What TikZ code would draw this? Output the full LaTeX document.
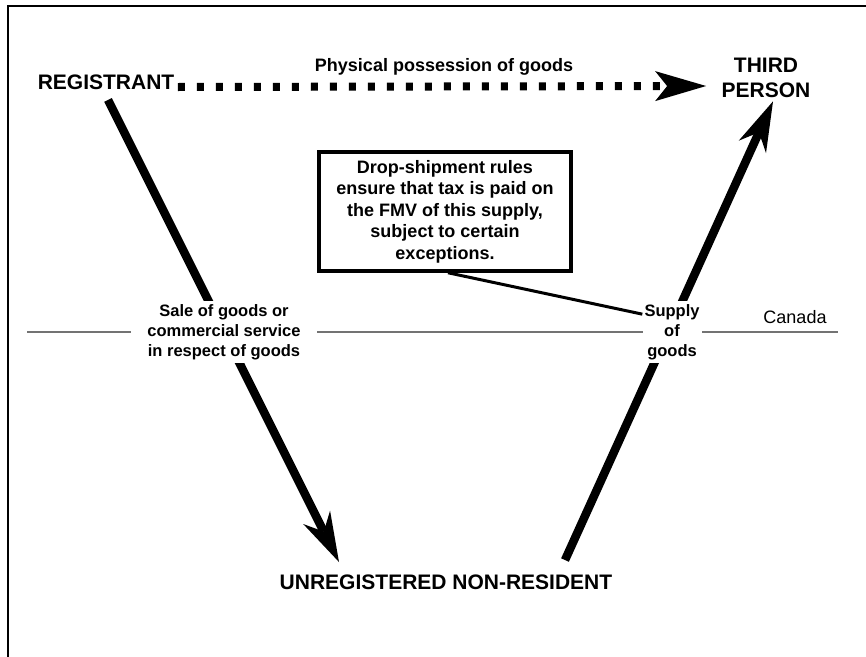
\documentclass[tikz,border=0pt]{standalone}
\usepackage{fontspec}
\setmainfont{Liberation Sans}
\usetikzlibrary{arrows.meta}

\begin{document}
\begin{tikzpicture}[x=1pt, y=-1pt, line join=miter,
	party/.style={font=\fontsize{21}{25}\selectfont\bfseries, align=center},
	note/.style={font=\fontsize{18}{21.5}\selectfont\bfseries, align=center},
	flow/.style={font=\fontsize{16.5}{20}\selectfont\bfseries, align=center, fill=white, inner ysep=3pt},
	heavy/.style={line width=8.5pt, -{Stealth[length=50pt, width=30pt, inset=16pt, line width=0pt]}},
	possession/.style={line width=8pt, dash pattern=on 7pt off 12pt, -{Stealth[length=51pt, width=30pt, inset=12pt, line width=0pt]}}]
		\useasboundingbox (0,0) rectangle (866,656);
		\draw [line width=2.5pt] (8,660)--(8,6)--(870,6);
		% border line
		\draw [black!55, line width=1.5pt] (27,332)--(838,332);
		\node [font=\fontsize{18}{21}\selectfont] (canada) at (795,317) {Canada};
		% parties
		\node [party] (reg) at (106,82) {REGISTRANT};
		\node [party] (third) at (766,78) {THIRD\\PERSON};
		\node [party] (unreg) at (446,582) {UNREGISTERED NON-RESIDENT};
		\node [note] (phys) at (444,67) {Physical possession of goods};
		\draw [possession] ([yshift=-5pt]reg.east)--([xshift=-12pt, yshift=-8pt]third.west);
		\draw [heavy] ([xshift=2pt, yshift=-7pt]reg.south)--([xshift=-107pt, yshift=9pt]unreg.north);
		\draw [heavy] ([xshift=119pt, yshift=11pt]unreg.north)--([xshift=7pt]third.south);
		% labels on the arrows
		\node [flow, inner xsep=16pt] (sale) at (224,332) {Sale of goods or\\commercial service\\in respect of goods};
		\node [flow, inner xsep=2pt] (supply) at (672,332) {Supply\\of\\goods};
		\node [note, draw, line width=3.5pt, minimum width=252pt, minimum height=119pt] (drop) at (445,211.5)
		{Drop-shipment rules\\ensure that tax is paid on\\the FMV of this supply,\\subject to certain\\exceptions.};
		\draw [line width=3pt] ([xshift=3pt]drop.south)--(supply.149);
\end{tikzpicture}
\end{document}
